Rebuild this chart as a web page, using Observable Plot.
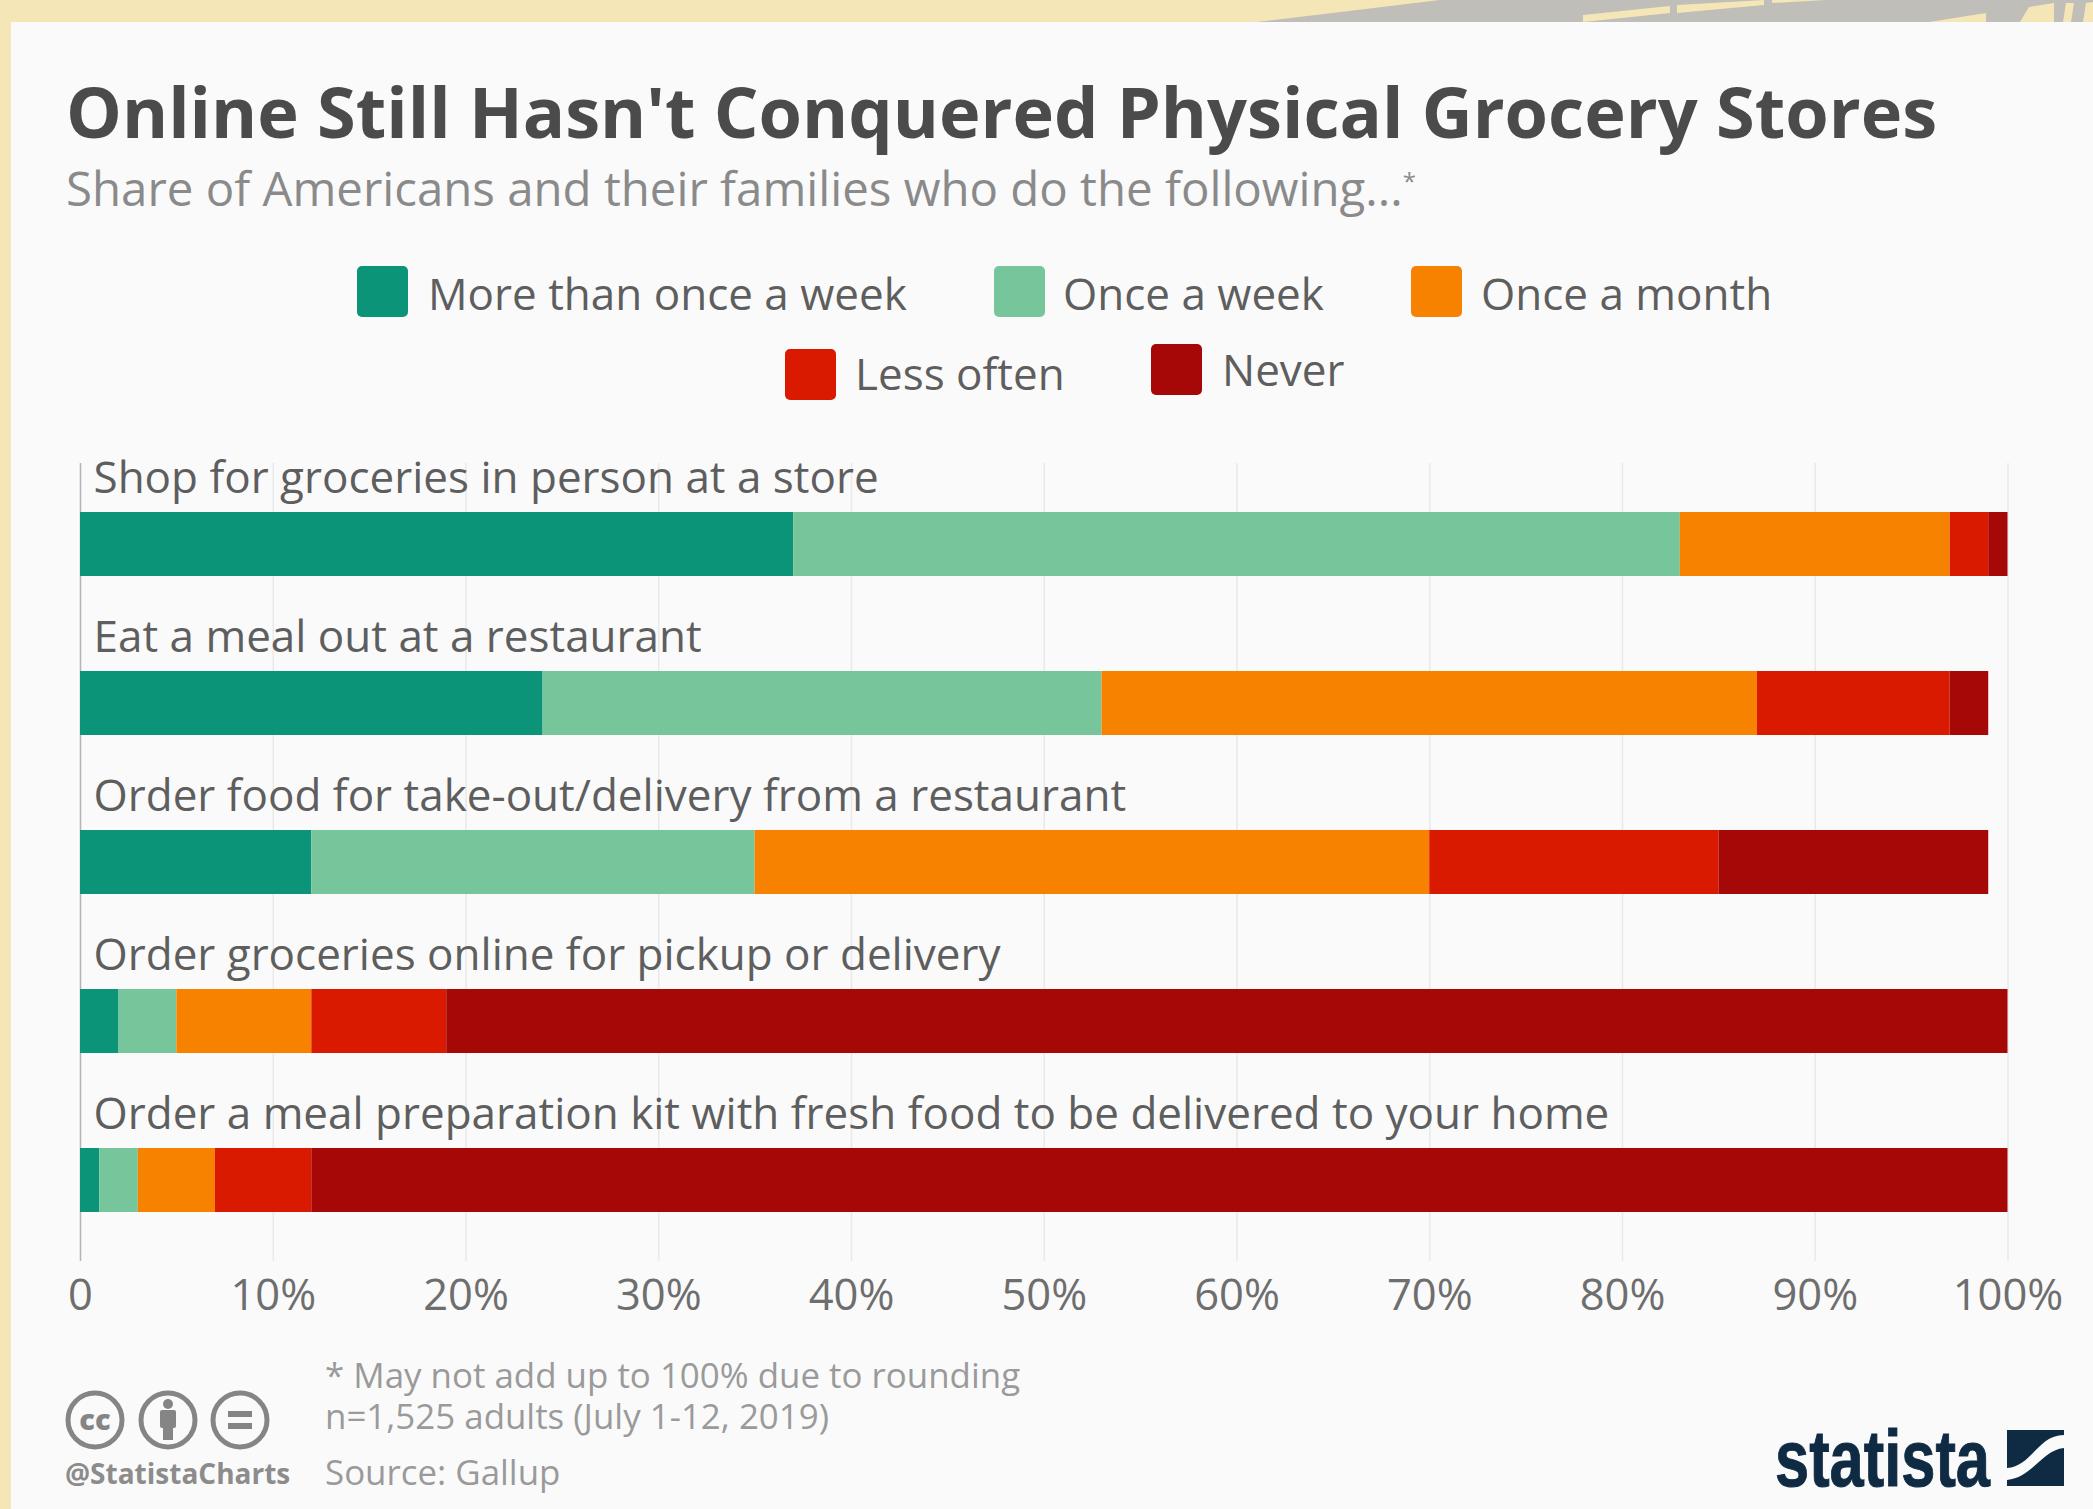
<!DOCTYPE html>
<html>
<head>
<meta charset="utf-8">
<script src="https://cdn.jsdelivr.net/npm/d3@7"></script>
<script src="https://cdn.jsdelivr.net/npm/@observablehq/plot@0.6"></script>
<style>
  html, body { margin: 0; padding: 0; }
  body { width: 2093px; height: 1509px; position: relative; overflow: hidden; background: #f5e6b8; font-family: "Open Sans", sans-serif; }
  #band { position: absolute; left: 0; top: 0; }
  #panel { position: absolute; left: 11px; top: 22px; right: 0; bottom: 0; background: #fafafa; }
  .abs { position: absolute; white-space: nowrap; }
  #title { left: 66px; top: 69px; font-size: 70.3px; font-weight: 700; color: #4b4b4b; line-height: 84px; }
  #subtitle { left: 66px; top: 159px; font-size: 47.4px; color: #8a8a8a; line-height: 58px; }
  #subtitle sup { font-size: 24px; line-height: 0; vertical-align: 16px; }
  .swatch { position: absolute; width: 51px; height: 51px; border-radius: 5px; }
  .lab { position: absolute; font-size: 44px; line-height: 56px; color: #5e5e5e; white-space: nowrap; }
  #chart { position: absolute; left: 0; top: 440px; }
  .foot { position: absolute; font-size: 34.9px; line-height: 40px; color: #9a9a9a; white-space: nowrap; }
  #handle { left: 65px; top: 1453px; font-size: 28px; font-weight: 700; color: #8c8c8c; }
  #logo { position: absolute; left: 1770px; top: 1395px; }
</style>
</head>
<body>
<svg id="band" width="2093" height="22">
  <polygon points="1257,22 1440,0 2093,0 2093,22" fill="#bfbeb8"/>
  <g fill="#f5e6b8">
    <polygon points="1583,22 1670,13 1670,6 1583,15"/>
    <polygon points="1677,13 1764,5 1764,0 1677,5"/>
    <polygon points="1772,3 1826,0 1772,0"/>
    <polygon points="1929,22 1986,13 1986,22"/>
    <polygon points="2020,22 2029,7 2054,3 2054,22"/>
    <polygon points="2063,22 2066,3 2074,3 2071,22"/>
    <polygon points="2083,22 2086,3 2093,2 2093,22"/>
  </g>
</svg>
<div id="panel"></div>
<div class="abs" id="title">Online Still Hasn't Conquered Physical Grocery Stores</div>
<div class="abs" id="subtitle">Share of Americans and their families who do the following...<sup>*</sup></div>
<div id="legend"></div>
<div id="chart"></div>
<div class="foot" style="left:325px;top:1355px">* May not add up to 100% due to rounding</div>
<div class="foot" style="left:325px;top:1396px">n=1,525 adults (July 1-12, 2019)</div>
<div class="foot" style="left:325px;top:1452px">Source: Gallup</div>
<svg style="position:absolute;left:60px;top:1390px" width="220" height="66" fill="none" stroke="#858585" stroke-width="5">
  <circle cx="35" cy="30" r="27"/>
  <circle cx="108" cy="30" r="27"/>
  <circle cx="180" cy="30" r="27"/>
  <text x="35" y="40" text-anchor="middle" font-family="Open Sans" font-weight="800" font-size="29" fill="#858585" stroke="none">cc</text>
  <circle cx="108" cy="14" r="5" fill="#858585" stroke="none"/>
  <rect x="100" y="20" width="16" height="18" rx="2" fill="#858585" stroke="none"/>
  <rect x="103" y="36" width="10" height="14" fill="#858585" stroke="none"/>
  <rect x="168" y="21" width="24" height="6" fill="#858585" stroke="none"/>
  <rect x="168" y="33" width="24" height="6" fill="#858585" stroke="none"/>
</svg>
<div class="foot" id="handle">@StatistaCharts</div>
<svg id="logo" width="323" height="114">
  <text x="5" y="91" font-family="Liberation Sans" font-weight="700" font-size="80" fill="#0f2a43" stroke="#0f2a43" stroke-width="1" textLength="215" lengthAdjust="spacingAndGlyphs">statista</text>
  <rect x="237" y="35" width="57" height="56" fill="#0f2a43"/>
  <path d="M237,73 C262,71 268,40 294,40 L294,53 C272,55 262,83 237,85 Z" fill="#fafafa"/>
</svg>
<script>
// Survey answers, in percent of respondents
const activities = [
  "Shop for groceries in person at a store",
  "Eat a meal out at a restaurant",
  "Order food for take-out/delivery from a restaurant",
  "Order groceries online for pickup or delivery",
  "Order a meal preparation kit with fresh food to be delivered to your home"
];
const frequencies = ["More than once a week", "Once a week", "Once a month", "Less often", "Never"];
const colors = ["#0b9477", "#77c69b", "#f78200", "#d91a00", "#a60808"];
const moreThanOnceAWeek = [37, 24, 12, 2, 1];
const onceAWeek = [46, 29, 23, 3, 2];
const onceAMonth = [14, 34, 35, 7, 4];
const lessOften = [2, 10, 15, 7, 5];
const never = [1, 2, 14, 81, 88];
const xTicks = [0, 10, 20, 30, 40, 50, 60, 70, 80, 90, 100];

const seriesValues = [moreThanOnceAWeek, onceAWeek, onceAMonth, lessOften, never];
const rows = frequencies.flatMap((frequency, s) =>
  activities.map((activity, a) => ({activity, frequency, share: seriesValues[s][a]}))
);

// Legend: two centred rows of swatches
const legendItems = [
  {s: 0, x: 357, y: 266, tx: 428, ty: 265},
  {s: 1, x: 994, y: 266, tx: 1063, ty: 265},
  {s: 2, x: 1411, y: 266, tx: 1481, ty: 265},
  {s: 3, x: 785, y: 349, tx: 855, ty: 345},
  {s: 4, x: 1151, y: 344, tx: 1222, ty: 341}
];
const legend = document.getElementById("legend");
for (const item of legendItems) {
  const sw = document.createElement("div");
  sw.className = "swatch";
  sw.style.cssText = `left:${item.x}px;top:${item.y}px;background:${colors[item.s]}`;
  const lab = document.createElement("div");
  lab.className = "lab";
  lab.style.cssText = `left:${item.tx}px;top:${item.ty}px`;
  lab.textContent = frequencies[item.s];
  legend.append(sw, lab);
}

const chart = Plot.plot({
  width: 2093,
  height: 900,
  marginLeft: 80,
  marginRight: 85.5,
  marginTop: 23,
  marginBottom: 79,
  style: {background: "transparent", fontFamily: "Open Sans, sans-serif", overflow: "visible"},
  x: {domain: [0, 100], range: [80, 2007.5]},
  y: {domain: activities, axis: null, range: [72, 772], paddingInner: 0.5975, paddingOuter: 0, round: false},
  color: {domain: frequencies, range: colors},
  marks: [
    Plot.ruleX(xTicks.filter(d => d > 0), {x: d => d, stroke: "#e9e9e9", strokeWidth: 1.5}),
    Plot.ruleX([0], {stroke: "#b5b5b5", strokeWidth: 1.5}),
    Plot.barX(rows, {x: "share", y: "activity", fill: "frequency", order: frequencies}),
    Plot.text(activities, {
      x: 0, y: d => d, text: d => d, dx: 13, dy: -66,
      textAnchor: "start", fontSize: 44, fill: "#5e5e5e"
    }),
    Plot.axisX({
      ticks: xTicks, tickSize: 0, tickPadding: 18, label: null, fontSize: 43.5,
      tickFormat: d => d === 0 ? "0" : `${d}%`, color: "#6e6e6e"
    })
  ]
});
document.getElementById("chart").append(chart);
</script>
</body>
</html>
